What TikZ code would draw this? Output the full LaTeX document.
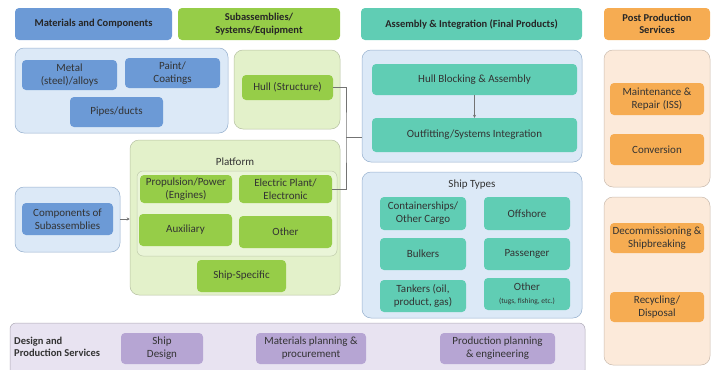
\documentclass[tikz,border=0pt]{standalone}
\usepackage{fontspec}
\setmainfont{Carlito}
\usetikzlibrary{arrows.meta}

\definecolor{blueD}{RGB}{108,154,214}
\definecolor{blueL}{RGB}{220,233,247}
\definecolor{blueB}{RGB}{150,176,206}
\definecolor{greenD}{RGB}{150,205,72}
\definecolor{greenL}{RGB}{227,241,202}
\definecolor{greenP}{RGB}{234,245,216}
\definecolor{tealD}{RGB}{96,205,180}
\definecolor{orangeD}{RGB}{246,172,82}
\definecolor{orangeL}{RGB}{252,234,218}
\definecolor{purpD}{RGB}{182,165,211}
\definecolor{purpL}{RGB}{232,227,241}

\newcommand\shiptextstyle{\fontsize{11}{13}\selectfont}
\newcommand\shiphdrstyle{\bfseries\fontsize{10.5}{12.5}\selectfont}

\tikzset{
  hdr/.style={rounded corners=4pt, inner sep=1pt, align=center, font=\shiphdrstyle, text=black!85},
  item/.style={rounded corners=4pt, inner sep=1pt, align=center, font=\shiptextstyle, text=black!80},
  grp/.style={rounded corners=9pt, inner sep=0pt, line width=0.5pt},
  link/.style={draw=black!55, line width=0.5pt},
}

% box from corner (x1,y1) to corner (x2,y2), in pixels of the sheet
\newcommand\vcbox[7]{
  \node[#1, minimum width={#4-#2}, minimum height={#5-#3}] (#6)
    at ({(#2+#4)/2},{(#3+#5)/2}) {#7};
}

\begin{document}
\begin{tikzpicture}[x=1pt, y=-1pt]
  \useasboundingbox (0,0) rectangle (716,370);

  % column headers
  \vcbox{hdr, fill=blueD}{15}{8}{172}{40}{hmat}{Materials and Components}
  \vcbox{hdr, fill=greenD}{178}{8}{340}{40}{hsub}{Subassemblies/\\Systems/Equipment}
  \vcbox{hdr, fill=tealD}{361}{8}{582}{40}{hasm}{Assembly \& Integration (Final Products)}
  \vcbox{hdr, fill=orangeD}{604}{8}{710}{40}{hpost}{Post Production\\Services}

  % group panels
  \vcbox{grp, draw=blueB, fill=blueL}{15}{48}{228}{133}{gmat}{}
  \vcbox{grp, draw=blueB, fill=blueL}{15}{187}{120}{252}{gcomp}{}
  \vcbox{grp, draw=greenL!80!black, fill=greenL}{234}{50}{340}{129}{ghull}{}
  \vcbox{grp, draw=greenL!80!black, fill=greenL}{130}{140}{340}{295}{gplat}{}
  \vcbox{grp, draw=greenL!85!black, fill=greenP, rounded corners=6pt}{137}{171}{337}{256}{gplin}{}
  \vcbox{grp, draw=blueB, fill=blueL}{362}{50}{582}{162}{gasm}{}
  \vcbox{grp, draw=blueB, fill=blueL}{362}{172}{582}{318}{gtyp}{}
  \vcbox{grp, draw=orangeL!80!black, fill=orangeL}{604}{50}{710}{187}{gpost}{}
  \vcbox{grp, draw=orangeL!80!black, fill=orangeL}{604}{197}{710}{365}{gend}{}
  \vcbox{grp, draw=purpL!75!black, fill=purpL, rounded corners=6pt}{10}{323}{585}{376}{gdes}{}

  % materials and components
  \vcbox{item, fill=blueD}{22}{60}{117}{90}{metal}{Metal\\(steel)/alloys}
  \vcbox{item, fill=blueD}{125}{58}{220}{88}{paint}{Paint/\\Coatings}
  \vcbox{item, fill=blueD}{70}{97}{163}{127}{pipes}{Pipes/ducts}
  \vcbox{item, fill=blueD}{22}{203}{113}{235}{comps}{Components of\\Subassemblies}

  % subassemblies
  \vcbox{item, fill=greenD}{242}{75}{333}{100}{hull}{Hull (Structure)}
  \node[item] (plat) at (235,162) {Platform};
  \vcbox{item, fill=greenD}{140}{175}{232}{203}{prop}{Propulsion/Power\\(Engines)}
  \vcbox{item, fill=greenD}{239}{175}{332}{203}{elec}{Electric Plant/\\Electronic}
  \vcbox{item, fill=greenD}{139}{214}{232}{246}{aux}{Auxiliary}
  \vcbox{item, fill=greenD}{239}{216}{332}{248}{other}{Other}
  \vcbox{item, fill=greenD}{197}{260}{286}{292}{spec}{Ship-Specific}

  % assembly and integration
  \vcbox{item, fill=tealD}{372}{64}{577}{95}{hbl}{Hull Blocking \& Assembly}
  \vcbox{item, fill=tealD}{372}{118}{577}{152}{outf}{Outfitting/Systems Integration}
  \node[item] (types) at (472,185) {Ship Types};
  \vcbox{item, fill=tealD}{380}{197}{466}{230}{cont}{Containerships/\\Other Cargo}
  \vcbox{item, fill=tealD}{484}{197}{570}{230}{offs}{Offshore}
  \vcbox{item, fill=tealD}{380}{238}{466}{270}{bulk}{Bulkers}
  \vcbox{item, fill=tealD}{484}{238}{570}{270}{pass}{Passenger}
  \vcbox{item, fill=tealD}{380}{280}{466}{312}{tank}{Tankers (oil,\\product, gas)}
  \vcbox{item, fill=tealD}{484}{278}{570}{310}{oth}{Other\\{\fontsize{7.5}{9}\selectfont(tugs, fishing, etc.)}}

  % post production
  \vcbox{item, fill=orangeD}{610}{83}{704}{115}{maint}{Maintenance \&\\Repair (ISS)}
  \vcbox{item, fill=orangeD}{610}{134}{704}{165}{conv}{Conversion}
  \vcbox{item, fill=orangeD}{610}{223}{704}{253}{decom}{Decommissioning \&\\Shipbreaking}
  \vcbox{item, fill=orangeD}{610}{292}{704}{322}{recyc}{Recycling/\\Disposal}

  % design and production services
  \node[item, font=\shiphdrstyle, align=left, anchor=west] (dps) at (13,347) {Design and\\Production Services};
  \vcbox{item, fill=purpD}{121}{333}{203}{364}{sdes}{Ship\\Design}
  \vcbox{item, fill=purpD}{256}{333}{366}{364}{mplan}{Materials planning \&\\procurement}
  \vcbox{item, fill=purpD}{440}{333}{555}{364}{pplan}{Production planning\\\& engineering}

  % connectors
  \coordinate (brk) at (346,137);
  \draw[link] (hull.east) -| (brk) |- (elec.east);
  \draw[link] (brk) -- (brk -| gasm.west);
  \draw[link, -{Stealth[length=3pt, width=3pt]}] (hbl) -- (outf);
  \draw[link, -{Stealth[length=3pt, width=3pt]}] (gcomp.east |- comps) -- (gplat.west |- comps);
\end{tikzpicture}
\end{document}
